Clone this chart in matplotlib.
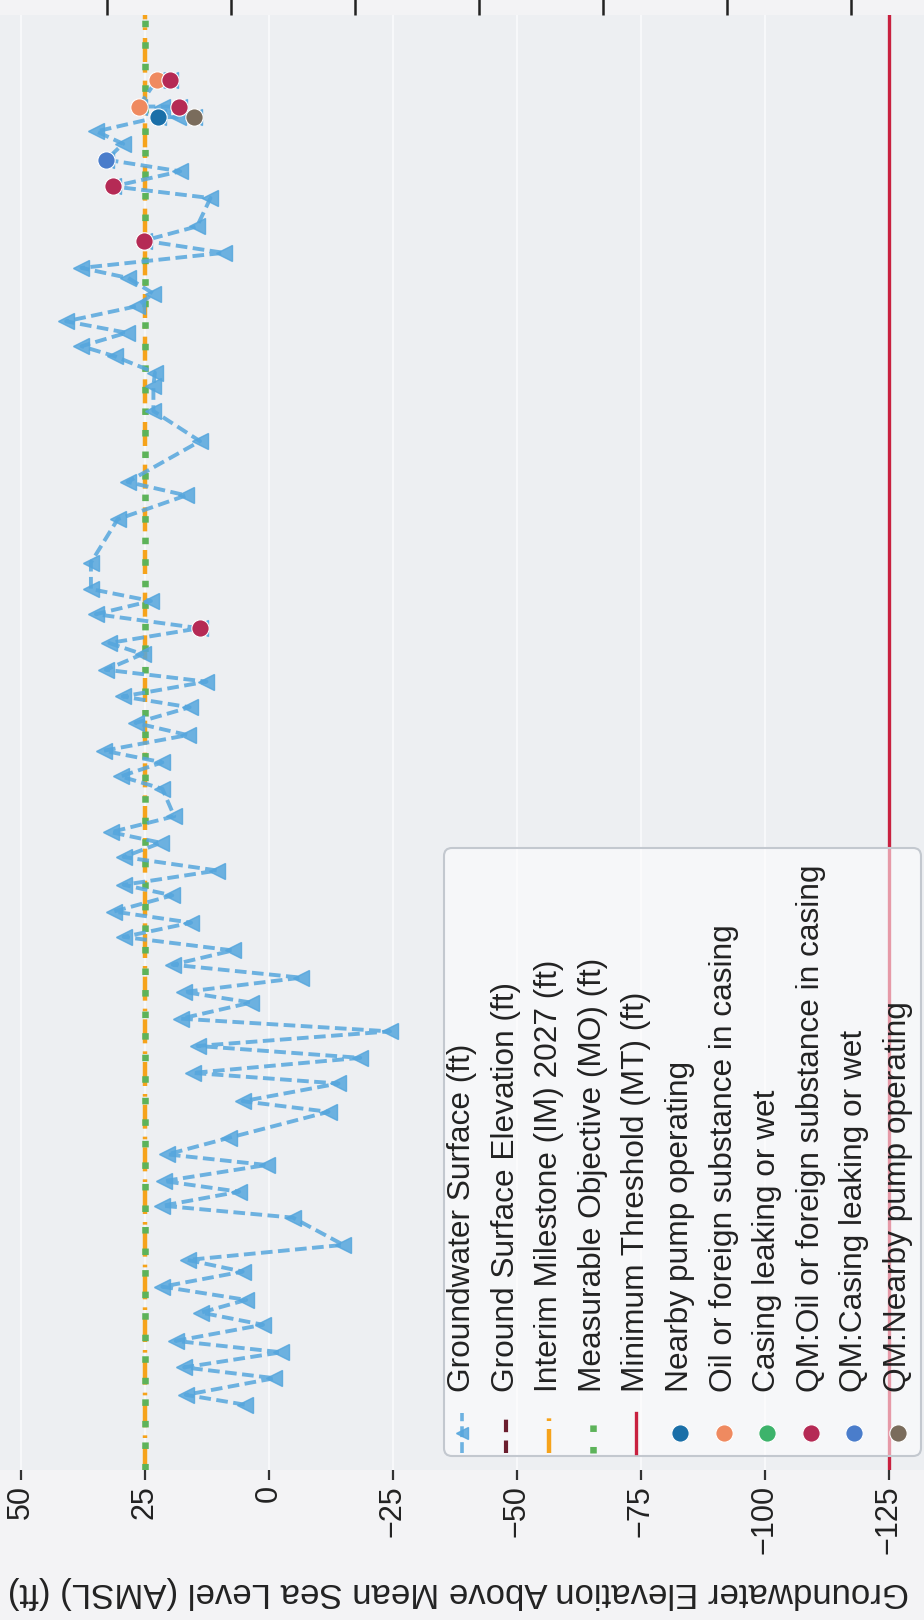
import matplotlib
matplotlib.use('Agg')
import matplotlib.pyplot as plt
from matplotlib.lines import Line2D
from matplotlib.patches import FancyBboxPatch
from matplotlib.transforms import IdentityTransform

plt.rcParams['font.family'] = ['Liberation Sans', 'DejaVu Sans']

# ---------------- data ----------------
gw_year = [1972.47, 1972.84, 1973.47, 1973.88, 1974.45, 1974.88, 1975.49, 1975.95,
           1976.43, 1976.93, 1977.50, 1977.94, 1978.51, 1979.54, 1979.99, 1980.52,
           1980.92, 1981.53, 1981.93, 1982.56, 1983.54, 1983.94, 1984.61, 1985.01,
           1985.58, 1986.03, 1986.58, 1987.06, 1987.67, 1988.07, 1988.61, 1989.10,
           1989.64, 1990.15, 1990.69, 1991.11, 1991.72, 1992.12, 1992.66, 1993.17,
           1993.71, 1994.11, 1994.71, 1995.75, 1996.22, 1996.75, 1997.19, 1997.78,
           1998.24, 1998.83, 1999.24, 1999.80, 2000.25, 2000.84, 2001.26, 2001.82,
           2002.35, 2002.85, 2003.30, 2004.30, 2005.94, 2006.84, 2007.35, 2008.89,
           2010.03, 2010.97, 2011.48, 2012.10, 2012.48, 2012.99, 2013.42, 2013.99,
           2014.47, 2015.06, 2015.44, 2016.01, 2016.47, 2017.01, 2018.08, 2018.52,
           2019.09, 2019.53, 2020.13, 2020.60, 2021.14, 2021.14, 2021.14, 2021.54,
           2021.54, 2021.54, 2022.55, 2022.55]
gw_elev = [4.9, 16.8, -1.1, 17.1, -2.5, 18.8, 1.2, 13.7,
           4.6, 21.5, 5.3, 16.4, -15.0, -4.8, 21.5, 6.0,
           21.2, 0.5, 20.5, 8.0, -12.0, 5.3, -14.0, 15.4,
           -18.4, 14.4, -24.4, 17.8, 3.6, 17.1, -6.5, 19.4,
           7.3, 29.3, 15.7, 31.3, 19.5, 29.3, 10.4, 29.3,
           21.8, 31.9, 19.1, 21.5, 29.9, 21.5, 33.3, 16.4,
           26.9, 16.0, 29.5, 12.6, 32.9, 25.5, 32.2, 14.0,
           34.9, 23.8, 35.9, 35.9, 30.5, 16.7, 28.5, 13.9,
           23.3, 23.3, 23.0, 31.1, 37.8, 28.7, 40.9, 26.7,
           23.3, 28.4, 37.8, 9.1, 25.2, 14.5, 11.8, 31.4,
           17.9, 32.8, 29.4, 34.8, 22.3, 18.3, 15.2, 18.2,
           21.6, 26.3, 22.6, 19.9]

ground_surface = 57.7          # off the visible range
interim_milestone = 25.0
measurable_objective = 25.0
minimum_threshold = -125.0

nearby_year, nearby_elev = [2021.14], [22.3]
oil_year, oil_elev = [2021.54, 2022.55], [26.3, 22.6]
casing_year, casing_elev = [], []
qm_oil_year = [2001.82, 2016.47, 2018.52, 2021.54, 2022.55]
qm_oil_elev = [14.0, 25.2, 31.4, 18.2, 19.9]
qm_casing_year, qm_casing_elev = [2019.53], [32.8]
qm_nearby_year, qm_nearby_elev = [2021.14], [15.2]

elev_ticks = [50, 25, 0, -25, -50, -75, -100, -125]
depth_ticks = [25, 50, 75, 100, 125, 150, 175]

legend_labels = ['Groundwater Surface (ft)', 'Ground Surface Elevation (ft)',
                 'Interim Milestone (IM) 2027 (ft)', 'Measurable Objective (MO) (ft)',
                 'Minimum Threshold (MT) (ft)', 'Nearby pump operating',
                 'Oil or foreign substance in casing', 'Casing leaking or wet',
                 'QM:Oil or foreign substance in casing', 'QM:Casing leaking or wet',
                 'QM:Nearby pump operating']
ylabel = 'Groundwater Elevation Above Mean Sea Level (AMSL) (ft)'

# ---------------- styles ----------------
C_GW = '#55A6DD'
C_GSE = '#6B1E2E'
C_IM = '#F6A31B'
C_MO = '#5DB35A'
C_MT = '#C8203F'
C_NEAR = '#1A6FA8'
C_OIL = '#EF8A60'
C_CAS = '#3DB36B'
C_QOIL = '#B52A55'
C_QCAS = '#4A7DCB'
C_QNEAR = '#7A6C5C'

W, H = 924, 1620
fig = plt.figure(figsize=(W / 100, H / 100), dpi=100, facecolor='#F3F3F5')


def fx(px):
    return px / W


def fy(py):
    return 1 - py / H


ax_top, ax_bot = 15, 1470
ax = fig.add_axes([0, fy(ax_bot), 1, (ax_bot - ax_top) / H])
ax.set_facecolor('#EDEFF2')
for s in ax.spines.values():
    s.set_visible(False)
ax.set_xlim(54.23, -132.06)
ax.set_ylim(1970, 2025)

ax.set_xticks(elev_ticks)
ax.set_xticklabels([str(v).replace('-', '\u2212') for v in elev_ticks])
ax.tick_params(axis='x', bottom=True, length=7, width=1.6, color='#333333',
               labelrotation=90, labelsize=22, pad=4, labelcolor='#222222')
ax.set_yticks([])
ax.grid(True, axis='x', color='#F8F9FB', lw=1.4, zorder=0)
ax.set_axisbelow(True)

# reference lines
ax.axvline(minimum_threshold, color=C_MT, lw=2.4, zorder=2)
ax.axvline(ground_surface, color=C_GSE, lw=3, ls=(0, (3, 2)), zorder=2)
ax.axvline(interim_milestone, color=C_IM, lw=3.2, ls=(0, (5.4, 1.8, 0.6, 1.8)), zorder=3)
ax.axvline(measurable_objective, color=C_MO, lw=4.7, ls=(0, (1, 2.3)),
           dash_capstyle='butt', zorder=4)

# groundwater series
ax.plot(gw_elev, gw_year, color=C_GW, lw=2.8, ls=(0, (3, 1.4)), alpha=0.85,
        marker='<', ms=11.5, mfc=C_GW, mec=C_GW, zorder=5)

# flagged measurements
for yy, ee, c in [(nearby_year, nearby_elev, C_NEAR), (oil_year, oil_elev, C_OIL),
                  (casing_year, casing_elev, C_CAS), (qm_oil_year, qm_oil_elev, C_QOIL),
                  (qm_casing_year, qm_casing_elev, C_QCAS),
                  (qm_nearby_year, qm_nearby_elev, C_QNEAR)]:
    ax.plot(ee, yy, ls='none', marker='o', ms=12.5, mfc=c, mec='white', mew=0.8, zorder=6)

# secondary (depth) axis ticks on top
sec = ax.secondary_xaxis('top', functions=(lambda e: ground_surface - e,
                                           lambda d: ground_surface - d))
sec.set_xticks(depth_ticks)
sec.set_xticklabels([])
sec.tick_params(length=12, width=1.8, color='#222222')
for s in sec.spines.values():
    s.set_visible(False)

# axis title (rotated with the page)
fig.text(fx(458), fy(1592), ylabel, rotation=180, ha='center', va='center',
         fontsize=25, color='#222222')

# ---------------- legend (rotated) ----------------
box = FancyBboxPatch((444, H - 1456), 921 - 444, 1456 - 848,
                     boxstyle='round,pad=0,rounding_size=8', transform=IdentityTransform(),
                     fc=(1, 1, 1, 0.55), ec='#C3C8CF', lw=1.5, zorder=1)
fig.add_artist(box)

sym_top, sym_bot, sym_mid = 1413, 1453, 1433
styles = [
    dict(color=C_GW, lw=2.6, ls=(0, (3, 1.4)), marker='<', ms=9, markevery=[1], alpha=0.85),
    dict(color=C_GSE, lw=3, ls=(0, (3, 2))),
    dict(color=C_IM, lw=3.2, ls=(0, (5.4, 1.8, 0.6, 1.8))),
    dict(color=C_MO, lw=4.7, ls=(0, (1, 2.3)), dash_capstyle='butt'),
    dict(color=C_MT, lw=2.4),
]
circle_cols = [C_NEAR, C_OIL, C_CAS, C_QOIL, C_QCAS, C_QNEAR]
for i, lab in enumerate(legend_labels):
    x = 462 + 43.6 * i
    if i < 5:
        ln = Line2D([fx(x)] * 3, [fy(sym_bot), fy(sym_mid), fy(sym_top)],
                    transform=fig.transFigure, **styles[i])
    else:
        ln = Line2D([fx(x)], [fy(sym_mid)], transform=fig.transFigure, ls='none',
                    marker='o', ms=12.5, mfc=circle_cols[i - 5], mec='white', mew=0.8)
    fig.add_artist(ln)
    fig.text(fx(x), fy(1392), lab, rotation=90, ha='center', va='bottom',
             fontsize=22.8, color='#222222')

fig.savefig('out.png', dpi=100, facecolor=fig.get_facecolor())
